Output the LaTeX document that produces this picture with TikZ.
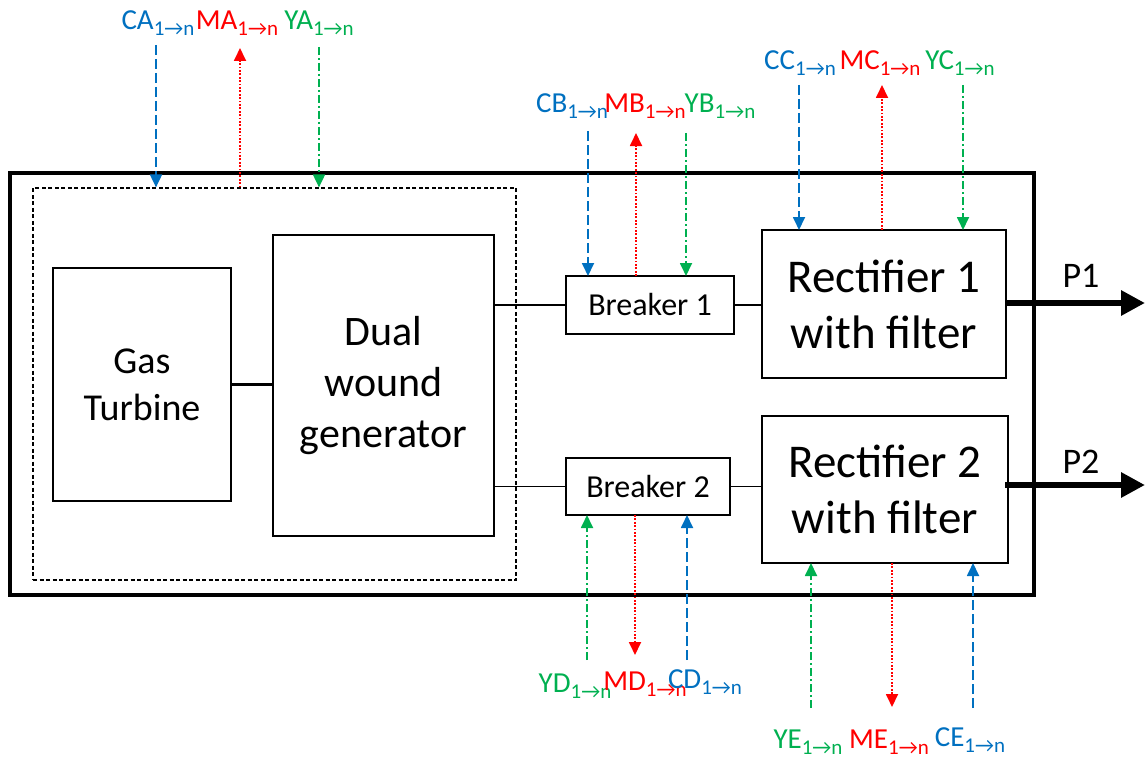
\documentclass[tikz,border=0pt]{standalone}
\usepackage{fontspec}
\setmainfont{Carlito}
\usetikzlibrary{arrows.meta}
\definecolor{cblue}{RGB}{0,112,192}
\definecolor{cred}{RGB}{255,0,0}
\definecolor{cgreen}{RGB}{0,176,80}
\newcommand{\fs}[2]{\fontsize{#1}{#2}\selectfont}
\newcommand{\lab}[1]{#1{\fs{21}{24}\raisebox{-6pt}{1→n}}}
\tikzset{
  blk/.style={draw=black, line width=1.5pt, inner sep=0pt, outer sep=0pt, align=center},
  sig/.style={line width=1.8pt, -{Triangle[width=12pt,length=13pt]}},
  cl/.style={sig, cblue, dash pattern=on 10pt off 4pt},
  ml/.style={sig, cred, dash pattern=on 1.8pt off 1.6pt},
  yl/.style={sig, cgreen, dash pattern=on 8pt off 3pt on 2pt off 3pt},
  lbl/.style={anchor=base, inner sep=0pt, font=\fs{29}{34}},
  wire/.style={line width=1.5pt},
  power/.style={line width=6pt, -{Triangle[width=24pt,length=24pt]}},
}
\begin{document}
\begin{tikzpicture}[x=1pt,y=-1pt]
\useasboundingbox (0,0) rectangle (1145,757);
% boxes
\node[draw=black, line width=3.5pt, minimum width=1024pt, minimum height=422pt, inner sep=0pt] (outer) at (522,384) {};
\node[draw=black, line width=1.2pt, dash pattern=on 4pt off 2.5pt, minimum width=483pt, minimum height=392pt, inner sep=0pt] (dbox) at (274.5,384) {};
\node[blk, minimum width=178pt, minimum height=233pt, font=\fs{38}{47}] (gt) at (142,384.5) {Gas\\Turbine};
\node[blk, minimum width=221pt, minimum height=301pt, font=\fs{42}{51}] (gen) at (383.5,385.5) {Dual\\wound\\generator};
\node[blk, minimum width=168pt, minimum height=58pt, font=\fs{32}{36}] (br1) at (650,305) {Breaker 1};
\node[blk, minimum width=164pt, minimum height=57pt, font=\fs{32}{36}] (br2) at (648,486.5) {Breaker 2};
\node[blk, minimum width=244pt, minimum height=148pt, font=\fs{47}{56}] (r1) at (884,304) {Rectifier 1\\with filter};
\node[blk, minimum width=246pt, minimum height=147pt, font=\fs{47}{56}] (r2) at (885,489.5) {Rectifier 2\\with filter};
% wires
\draw[line width=3pt] (gt.east) -- (gen.west |- gt.east);
\draw[wire] (gen.east |- br1.west) -- (br1.west);
\draw[wire] (br1.east) -- (r1.west |- br1.east);
\draw[wire] (gen.east |- br2.west) -- (br2.west);
\draw[wire] (br2.east) -- (r2.west |- br2.east);
% power outputs
\coordinate (p1end) at (1145,303);
\coordinate (p2end) at (1145,485);
\draw[power] (r1.east |- p1end) -- (p1end);
\draw[power] (r2.east |- p2end) ++(-3,0) -- (p2end);
\node[anchor=base, inner sep=0pt, font=\fs{36}{40}] (p1) at (1081,287) {P1};
\node[anchor=base, inner sep=0pt, font=\fs{36}{40}] (p2) at (1081,473) {P2};
% group A
\node[lbl, cblue] (tca) at (158,30) {\lab{CA}};
\node[lbl, cred] (tma) at (237,30) {\lab{MA}};
\node[lbl, cgreen] (tya) at (319,30) {\lab{YA}};
\coordinate (ca) at (156,45);
\coordinate (ma) at (240,48);
\coordinate (ya) at (319,47);
\draw[cl] (ca) -- (ca |- dbox.north);
\draw[ml] (ma |- dbox.north) -- (ma);
\draw[yl] (ya) -- (ya |- dbox.north);
% group B
\node[lbl, cblue] (tcb) at (572,113) {\lab{CB}};
\node[lbl, cred] (tmb) at (645,113) {\lab{MB}};
\node[lbl, cgreen] (tyb) at (720,113) {\lab{YB}};
\coordinate (cb) at (588,131);
\coordinate (mb) at (636,133);
\coordinate (yb) at (686,133);
\draw[cl] (cb) -- (cb |- br1.north);
\draw[ml] (mb |- br1.north) -- (mb);
\draw[yl] (yb) -- (yb |- br1.north);
% group C
\node[lbl, cblue] (tcc) at (800,70) {\lab{CC}};
\node[lbl, cred] (tmc) at (880,70) {\lab{MC}};
\node[lbl, cgreen] (tyc) at (960,70) {\lab{YC}};
\coordinate (cc) at (799,85);
\coordinate (mc) at (882,85);
\coordinate (yc) at (963,85);
\draw[cl] (cc) -- (cc |- r1.north);
\draw[ml] (mc |- r1.north) -- (mc);
\draw[yl] (yc) -- (yc |- r1.north);
% group D
\node[lbl, cgreen] (tyd) at (575,692) {\lab{YD}};
\node[lbl, cred] (tmd) at (645,690) {\lab{MD}};
\node[lbl, cblue] (tcd) at (705,688) {\lab{CD}};
\coordinate (yd) at (587,660);
\coordinate (md) at (635,655);
\coordinate (cd) at (687,660);
\draw[yl] (yd) -- (yd |- br2.south);
\draw[ml] (md |- br2.south) -- (md);
\draw[cl] (cd) -- (cd |- br2.south);
% group E
\node[lbl, cgreen] (tye) at (808,748) {\lab{YE}};
\node[lbl, cred] (tme) at (889,748) {\lab{ME}};
\node[lbl, cblue] (tce) at (970,746) {\lab{CE}};
\coordinate (ye) at (811,708);
\coordinate (me) at (892,707);
\coordinate (ce) at (973,708);
\draw[yl] (ye) -- (ye |- r2.south);
\draw[ml] (me |- r2.south) -- (me);
\draw[cl] (ce) -- (ce |- r2.south);
\end{tikzpicture}
\end{document}
